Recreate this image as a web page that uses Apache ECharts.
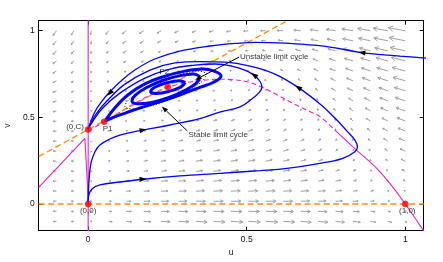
<!DOCTYPE html>
<html><head><meta charset="utf-8">
<script src="https://cdn.jsdelivr.net/npm/echarts@6/dist/echarts.min.js"></script>
<style>html,body{margin:0;padding:0;background:#fff}#c{width:443px;height:262px}</style>
</head><body><div id="c"></div>
<script>
// ---------- data ----------
const tickValues = [0, 0.5, 1];
const uNodes = [-0.1,-0.045,0.01,0.065,0.12,0.175,0.23,0.285,0.34,0.395,0.45,0.505,0.56,0.615,0.67,0.725,0.78,0.835,0.89,0.945,1.0];
const vNodes = [-0.1,-0.042,0.016,0.074,0.132,0.189,0.247,0.305,0.363,0.421,0.479,0.537,0.595,0.653,0.711,0.768,0.826,0.884,0.942,1.0];
// field components (rows bottom -> top, columns left -> right)
const fieldU = [
[-0.08,-0.06,0.01,0.08,0.13,0.17,0.21,0.24,0.26,0.27,0.28,0.28,0.28,0.27,0.25,0.23,0.21,0.17,0.13,0.09,0.04],
[-0.08,-0.06,0.01,0.07,0.12,0.16,0.19,0.22,0.24,0.25,0.26,0.26,0.26,0.24,0.23,0.21,0.18,0.15,0.11,0.07,0.02],
[-0.08,-0.06,0.01,0.06,0.11,0.15,0.18,0.20,0.22,0.23,0.24,0.24,0.24,0.22,0.21,0.19,0.16,0.12,0.09,0.04,-0.01],
[-0.08,-0.06,0.01,0.06,0.10,0.13,0.16,0.18,0.20,0.21,0.22,0.22,0.22,0.20,0.19,0.17,0.14,0.10,0.07,0.02,-0.03],
[-0.08,-0.06,0.01,0.05,0.08,0.12,0.15,0.17,0.18,0.19,0.20,0.20,0.20,0.18,0.16,0.14,0.12,0.08,0.04,-0.01,-0.05],
[-0.08,-0.06,0.01,0.04,0.07,0.10,0.13,0.15,0.16,0.17,0.18,0.18,0.17,0.16,0.14,0.12,0.09,0.06,0.02,-0.03,-0.08],
[-0.08,-0.06,0.00,0.03,0.06,0.09,0.11,0.13,0.15,0.16,0.16,0.16,0.15,0.14,0.12,0.10,0.07,0.03,0.00,-0.05,-0.10],
[-0.08,-0.06,0.00,0.03,0.05,0.08,0.10,0.12,0.13,0.14,0.14,0.14,0.13,0.12,0.10,0.08,0.05,0.01,-0.03,-0.07,-0.12],
[-0.08,-0.06,0.00,0.02,0.04,0.06,0.08,0.10,0.11,0.12,0.12,0.12,0.11,0.09,0.08,0.06,0.03,-0.01,-0.05,-0.10,-0.15],
[-0.08,-0.06,0.00,0.01,0.03,0.05,0.07,0.08,0.09,0.10,0.10,0.10,0.09,0.07,0.05,0.03,0.00,-0.04,-0.07,-0.12,-0.17],
[-0.08,-0.06,0.00,0.00,0.01,0.03,0.05,0.06,0.07,0.08,0.08,0.08,0.07,0.05,0.03,0.01,-0.02,-0.06,-0.10,-0.14,-0.19],
[-0.08,-0.06,0.00,-0.01,0.00,0.02,0.03,0.05,0.05,0.06,0.06,0.06,0.05,0.03,0.01,-0.01,-0.04,-0.08,-0.12,-0.17,-0.22],
[-0.08,-0.06,-0.01,-0.01,-0.01,0.00,0.02,0.03,0.04,0.04,0.04,0.04,0.03,0.01,-0.01,-0.03,-0.06,-0.10,-0.14,-0.19,-0.24],
[-0.08,-0.06,-0.01,-0.02,-0.02,-0.01,0.00,0.01,0.02,0.02,0.02,0.02,0.01,-0.01,-0.03,-0.06,-0.09,-0.13,-0.16,-0.21,-0.26],
[-0.08,-0.06,-0.01,-0.03,-0.03,-0.02,-0.01,-0.01,0.00,0.00,0.00,0.00,-0.02,-0.04,-0.06,-0.08,-0.11,-0.15,-0.19,-0.24,-0.29],
[-0.08,-0.06,-0.01,-0.04,-0.04,-0.04,-0.03,-0.02,-0.02,-0.02,-0.02,-0.02,-0.04,-0.06,-0.08,-0.10,-0.13,-0.17,-0.21,-0.26,-0.31],
[-0.08,-0.06,-0.01,-0.05,-0.06,-0.05,-0.05,-0.04,-0.04,-0.04,-0.04,-0.04,-0.06,-0.08,-0.10,-0.12,-0.15,-0.20,-0.23,-0.28,-0.33],
[-0.08,-0.06,-0.01,-0.05,-0.07,-0.07,-0.06,-0.06,-0.06,-0.06,-0.06,-0.07,-0.08,-0.10,-0.12,-0.14,-0.18,-0.22,-0.26,-0.31,-0.36],
[-0.08,-0.06,-0.01,-0.06,-0.08,-0.08,-0.08,-0.08,-0.08,-0.08,-0.08,-0.09,-0.10,-0.12,-0.14,-0.17,-0.20,-0.24,-0.28,-0.33,-0.38],
[-0.08,-0.06,-0.02,-0.07,-0.09,-0.10,-0.09,-0.09,-0.09,-0.10,-0.10,-0.11,-0.12,-0.14,-0.16,-0.19,-0.22,-0.26,-0.30,-0.35,-0.40]
];
const fieldV = [
[-0.01,-0.01,-0.02,-0.02,-0.02,-0.02,-0.02,-0.02,-0.03,-0.03,-0.03,-0.03,-0.03,-0.03,-0.04,-0.04,-0.04,-0.04,-0.04,-0.04,-0.05],
[0.00,-0.01,-0.01,-0.01,-0.01,-0.01,-0.01,-0.01,-0.01,-0.01,-0.01,-0.01,-0.01,-0.01,-0.01,-0.02,-0.02,-0.02,-0.02,-0.02,-0.02],
[0,0,0,0,0,0,0,0,0,0,0,0,0,0,0.01,0.01,0.01,0.01,0.01,0.01,0.01],
[0.01,0.01,0.01,0.01,0.01,0.01,0.01,0.01,0.02,0.02,0.02,0.02,0.02,0.02,0.02,0.02,0.03,0.03,0.03,0.03,0.03],
[0.01,0.01,0.01,0.01,0.02,0.02,0.02,0.02,0.03,0.03,0.03,0.03,0.03,0.04,0.04,0.04,0.04,0.04,0.05,0.05,0.05],
[0.01,0.01,0.01,0.02,0.02,0.02,0.03,0.03,0.03,0.04,0.04,0.04,0.05,0.05,0.05,0.05,0.06,0.06,0.06,0.07,0.07],
[0.01,0.01,0.01,0.02,0.02,0.03,0.03,0.03,0.04,0.04,0.05,0.05,0.06,0.06,0.06,0.07,0.07,0.08,0.08,0.08,0.09],
[0.00,0.01,0.01,0.02,0.02,0.03,0.03,0.04,0.04,0.05,0.05,0.06,0.06,0.07,0.07,0.08,0.08,0.09,0.09,0.10,0.10],
[0.00,0.00,0.01,0.01,0.02,0.03,0.03,0.04,0.04,0.05,0.06,0.06,0.07,0.07,0.08,0.09,0.09,0.10,0.10,0.11,0.12],
[-0.01,0.00,0.00,0.01,0.02,0.02,0.03,0.04,0.04,0.05,0.06,0.06,0.07,0.08,0.09,0.09,0.10,0.11,0.11,0.12,0.13],
[-0.02,-0.01,-0.01,0.00,0.01,0.02,0.03,0.03,0.04,0.05,0.06,0.07,0.07,0.08,0.09,0.10,0.11,0.11,0.12,0.13,0.14],
[-0.03,-0.02,-0.02,-0.01,0.00,0.01,0.02,0.03,0.04,0.05,0.06,0.06,0.07,0.08,0.09,0.10,0.11,0.12,0.13,0.14,0.14],
[-0.05,-0.04,-0.03,-0.02,-0.01,0.00,0.01,0.02,0.03,0.04,0.05,0.06,0.07,0.08,0.09,0.10,0.11,0.12,0.13,0.14,0.15],
[-0.06,-0.05,-0.04,-0.03,-0.02,-0.01,0.00,0.01,0.02,0.03,0.04,0.06,0.07,0.08,0.09,0.10,0.11,0.12,0.13,0.14,0.15],
[-0.08,-0.07,-0.06,-0.05,-0.03,-0.02,-0.01,0.00,0.01,0.02,0.04,0.05,0.06,0.07,0.08,0.09,0.11,0.12,0.13,0.14,0.15],
[-0.10,-0.09,-0.08,-0.06,-0.05,-0.04,-0.02,-0.01,0.00,0.01,0.03,0.04,0.05,0.06,0.08,0.09,0.10,0.11,0.13,0.14,0.15],
[-0.12,-0.11,-0.10,-0.08,-0.07,-0.05,-0.04,-0.03,-0.01,0.00,0.01,0.03,0.04,0.05,0.07,0.08,0.10,0.11,0.12,0.14,0.15],
[-0.15,-0.13,-0.12,-0.10,-0.09,-0.07,-0.06,-0.04,-0.03,-0.02,0.00,0.01,0.03,0.04,0.06,0.07,0.09,0.10,0.12,0.13,0.15],
[-0.17,-0.16,-0.14,-0.13,-0.11,-0.10,-0.08,-0.06,-0.05,-0.03,-0.02,0.00,0.01,0.03,0.04,0.06,0.08,0.09,0.11,0.12,0.14],
[-0.20,-0.18,-0.17,-0.15,-0.13,-0.12,-0.10,-0.09,-0.07,-0.05,-0.04,-0.02,0.00,0.01,0.03,0.05,0.06,0.08,0.10,0.11,0.13]
];
// nullclines
const uAxisNull = [[0,-0.2],[0,1.1]];
const leftBranch = [[-0.156,0.096],[-0.083,0.238],[-0.0104,0.379],[-0.003,0.138],[0,0.015]];
const rightBranchDashed = [[0,0.42],[0.05,0.475],[0.1,0.53],[0.15,0.585],[0.2,0.632],[0.25,0.673],[0.3,0.697],[0.35,0.712],[0.42,0.72],[0.48,0.713],[0.52,0.695],[0.57,0.655],[0.626,0.60],[0.68,0.55],[0.731,0.504],[0.778,0.427]];
const rightBranchSolid = [[0.778,0.427],[0.847,0.31],[0.91,0.206],[0.955,0.11],[1.0,0.0],[1.058,-0.155]];
const vZeroNull = [[-0.156,0],[1.058,0]];
const vSlopeNull = [[-0.156,0.274],[0.628,1.058]];
// trajectories
const traj1 = [[0,0.433],[0.021,0.531],[0.046,0.600],[0.068,0.646],[0.100,0.704],[0.147,0.773],[0.210,0.837],[0.289,0.883],[0.384,0.912],[0.479,0.929],[0.526,0.933],[0.573,0.932],[0.668,0.923],[0.762,0.906],[0.863,0.874],[0.983,0.854],[1.119,0.834]];
const trajB = [[0,0.012],[0.002,0.052],[0.012,0.087],[0.037,0.110],[0.100,0.127],[0.173,0.143],[0.289,0.162],[0.415,0.177],[0.542,0.193],[0.627,0.206],[0.731,0.235],[0.803,0.264],[0.841,0.302],[0.849,0.329],[0.841,0.369],[0.816,0.421],[0.778,0.496],[0.731,0.577],[0.662,0.673],[0.589,0.750],[0.510,0.796],[0.431,0.819],[0.352,0.822],[0.274,0.814],[0.195,0.773],[0.116,0.692],[0.062,0.600],[0.027,0.525],[0.005,0.456],[0,0.433]];
const trajA = [[0,0.013],[0.001,0.081],[0.004,0.167],[0.009,0.237],[0.021,0.300],[0.037,0.340],[0.068,0.375],[0.100,0.398],[0.173,0.427],[0.258,0.456],[0.352,0.493],[0.415,0.531],[0.479,0.561],[0.516,0.606],[0.538,0.641],[0.548,0.675],[0.541,0.710],[0.523,0.744],[0.494,0.773],[0.453,0.796],[0.400,0.808],[0.337,0.802],[0.258,0.779],[0.179,0.727],[0.100,0.640],[0.046,0.554],[0.015,0.479],[0,0.433]];
// spiral rings around P2
const ringInner = [[0.306,0.702],[0.293,0.676],[0.255,0.650],[0.215,0.638],[0.197,0.648],[0.210,0.674],[0.248,0.700],[0.288,0.712],[0.306,0.702]];
const ringMid = [[0.352,0.735],[0.343,0.701],[0.307,0.657],[0.255,0.615],[0.200,0.586],[0.157,0.578],[0.138,0.593],[0.148,0.627],[0.183,0.671],[0.235,0.713],[0.290,0.741],[0.333,0.750],[0.352,0.735]];
const ringStable = [[0.053,0.479],[0.084,0.554],[0.125,0.629],[0.179,0.693],[0.245,0.739],[0.305,0.767],[0.362,0.779],[0.397,0.767],[0.419,0.739],[0.397,0.704],[0.346,0.669],[0.289,0.629],[0.232,0.594],[0.163,0.554],[0.100,0.514],[0.053,0.479]];
const ringUnstable = [[0.374,0.753],[0.362,0.713],[0.320,0.659],[0.257,0.604],[0.191,0.564],[0.140,0.549],[0.116,0.563],[0.128,0.602],[0.171,0.657],[0.233,0.711],[0.299,0.752],[0.350,0.767],[0.374,0.753]];
// direction arrows on trajectories: [u, v, tangent du, tangent dv]
const flowArrows = [[0.863,0.874,-1,0.24],[0.068,0.64,-0.5,-1],[0.173,0.143,1,0.08],[0.662,0.673,-0.82,1],[0.173,0.427,1,0.37],[0.523,0.744,-0.75,1]];
// equilibria
const C = 0.43;
const eqNames = ['(0,0)','(1,0)','(0,C)','P1','P2'];
const eqU = [0, 1, 0, 0.0505, 0.251];
const eqV = [0, 0, C, 0.475, 0.675];
// annotations
const noteTexts = ['Unstable limit cycle','Stable limit cycle'];
const noteAnchor = [[0.4785,0.851],[0.316,0.398]];
const notePointer = [[0.476,0.848,0.337,0.716],[0.313,0.421,0.232,0.563]];

// ---------- styles ----------
const FONT = 'Liberation Sans, Arial, Helvetica, sans-serif';
const ARROW_SCALE = 0.134;
const BLUE = '#0000ff', MAG = '#f020d0', ORANGE = '#ff8a1c', GRAY = '#a2a2a2';
const eqLabelStyle = {
  '(0,0)': {position:'bottom', distance:0, offset:[0,0]},
  '(1,0)': {position:'bottom', distance:0, offset:[2,0]},
  '(0,C)': {position:'left', distance:1, offset:[0,-2.5]},
  'P1': {position:'bottom', distance:0, offset:[3.5,0]},
  'P2': {position:'top', distance:8, offset:[-3.5,0]}
};

const quiverData = [];
vNodes.forEach((v, j) => uNodes.forEach((u, i) => quiverData.push([u, v, fieldU[j][i], fieldV[j][i]])));

function line(data, color, width, type, extra) {
  return Object.assign({type:'line', data, symbol:'none', silent:true, animation:false,
    lineStyle:{color, width, type: type || 'solid'}, smooth: false, z: 3}, extra || {});
}

const chart = echarts.init(document.getElementById('c'), null, {renderer:'canvas'});
const axisCommon = (pos, showLabel) => ({
  type:'value', position:pos, min: pos==='left'||pos==='right' ? -0.154 : -0.156,
  max: 1.058, scale:false,
  axisLine:{show:true, onZero:false, lineStyle:{color:'#000', width:1}},
  axisTick:{show:true, inside:true, length:4, customValues:tickValues, lineStyle:{color:'#000', width:1}},
  axisLabel:{show:showLabel, customValues:tickValues, fontSize:8.5, color:'#111', fontFamily:FONT, margin:4,
    formatter: v => String(v)},
  splitLine:{show:false}
});

const option = {
  animation:false,
  backgroundColor:'#fff',
  grid:{left:38.7, right:19.3, top:20.7, bottom:31.3, show:false, outerBoundsMode:'none', containLabel:false},
  xAxis:[
    Object.assign(axisCommon('bottom', true), {name:'u', nameLocation:'middle', nameGap:11,
      nameTextStyle:{fontSize:8.5, fontFamily:FONT, color:'#111'}}),
    axisCommon('top', false)
  ],
  yAxis:[
    Object.assign(axisCommon('left', true), {name:'v', nameLocation:'middle', nameGap:16,
      nameTextStyle:{fontSize:8.5, fontFamily:FONT, color:'#111'}}),
    axisCommon('right', false)
  ],
  series:[
    {type:'custom', coordinateSystem:'cartesian2d', data:quiverData, silent:true, z:1,
      encode:{x:0, y:1},
      renderItem:(params, api) => {
        const u = api.value(0), v = api.value(1);
        const p0 = api.coord([u, v]);
        const p1 = api.coord([u + api.value(2)*ARROW_SCALE, v + api.value(3)*ARROW_SCALE]);
        const dx = p1[0]-p0[0], dy = p1[1]-p0[1];
        const len = Math.hypot(dx, dy);
        if (len < 0.2) return {type:'circle', shape:{cx:p0[0], cy:p0[1], r:0.5}, style:{fill:GRAY}};
        const ang = Math.atan2(dy, dx);
        const h = Math.max(1.6, len*0.32);
        const a1 = ang + Math.PI - 0.5, a2 = ang + Math.PI + 0.5;
        return {type:'group', children:[
          {type:'line', shape:{x1:p0[0], y1:p0[1], x2:p1[0], y2:p1[1]}, style:{stroke:GRAY, lineWidth:1}},
          {type:'polyline', shape:{points:[[p1[0]+h*Math.cos(a1), p1[1]+h*Math.sin(a1)], [p1[0], p1[1]], [p1[0]+h*Math.cos(a2), p1[1]+h*Math.sin(a2)]]},
            style:{stroke:GRAY, lineWidth:1, fill:null}}
        ]};
      }},
    line(uAxisNull, MAG, 1.1, 'solid'),
    line(leftBranch, MAG, 1.1, 'solid'),
    line(rightBranchDashed, MAG, 1.1, [5,3], {smooth:0.3}),
    line(rightBranchSolid, MAG, 1.1, 'solid', {smooth:0.3}),
    line(vZeroNull, ORANGE, 1.3, [6,3.5]),
    line(vSlopeNull, ORANGE, 1.3, [6,3.5]),
    line(traj1, BLUE, 1.3, 'solid', {smooth:0.4, clip:false}),
    line(trajB, BLUE, 1.3, 'solid', {smooth:0.4}),
    line(trajA, BLUE, 1.3, 'solid', {smooth:0.4}),
    line(ringStable, BLUE, 3, 'solid', {smooth:0.4}),
    line(ringMid, BLUE, 3, 'solid', {smooth:0.4}),
    line(ringInner, BLUE, 3, 'solid', {smooth:0.4}),
    line(ringUnstable, '#000', 1, [1,2], {smooth:0.4, z:4}),
    // annotation pointers
    {type:'custom', coordinateSystem:'cartesian2d', data:notePointer, silent:true, z:5,
      encode:{x:[0,2], y:[1,3]},
      renderItem:(params, api) => {
        const p0 = api.coord([api.value(0), api.value(1)]);
        const p1 = api.coord([api.value(2), api.value(3)]);
        const ang = Math.atan2(p1[1]-p0[1], p1[0]-p0[0]);
        const L = 6.5, W = 2.3;
        const bx = p1[0]-L*Math.cos(ang), by = p1[1]-L*Math.sin(ang);
        return {type:'group', children:[
          {type:'line', shape:{x1:p0[0], y1:p0[1], x2:bx, y2:by}, style:{stroke:'#000', lineWidth:1}},
          {type:'polygon', shape:{points:[[p1[0],p1[1]],[bx+W*Math.sin(ang), by-W*Math.cos(ang)],[bx-W*Math.sin(ang), by+W*Math.cos(ang)]]}, style:{fill:'#000'}}
        ]};
      }},
    // flow direction arrows
    {type:'custom', coordinateSystem:'cartesian2d', data:flowArrows, silent:true, z:6,
      encode:{x:0, y:1},
      renderItem:(params, api) => {
        const u = api.value(0), v = api.value(1);
        const p0 = api.coord([u, v]);
        const p1 = api.coord([u + api.value(2)*0.01, v + api.value(3)*0.01]);
        const ang = Math.atan2(p1[1]-p0[1], p1[0]-p0[0]);
        const L = 7, W = 2.6;
        const tip = [p0[0]+L/2*Math.cos(ang), p0[1]+L/2*Math.sin(ang)];
        const bx = p0[0]-L/2*Math.cos(ang), by = p0[1]-L/2*Math.sin(ang);
        return {type:'polygon', shape:{points:[tip,[bx+W*Math.sin(ang), by-W*Math.cos(ang)],[bx-W*Math.sin(ang), by+W*Math.cos(ang)]]}, style:{fill:'#000'}};
      }},
    // annotation texts
    {type:'scatter', silent:true, z:7, symbolSize:0,
      data: noteTexts.map((t, k) => ({name:t, value:noteAnchor[k]})),
      label:{show:true, position:'right', distance:0, formatter:'{b}', fontSize:8, color:'#000', fontFamily:FONT}},
    // equilibria
    {type:'scatter', silent:true, z:8, symbol:'circle', symbolSize:6.5,
      itemStyle:{color:'#ff0000'},
      data: eqNames.map((n, k) => ({name:n, value:[eqU[k], eqV[k]],
        label:Object.assign({show:true, formatter:'{b}', fontSize:8, color:'#000', fontFamily:FONT}, eqLabelStyle[n])}))}
  ]
};
chart.setOption(option);
</script>
</body></html>
